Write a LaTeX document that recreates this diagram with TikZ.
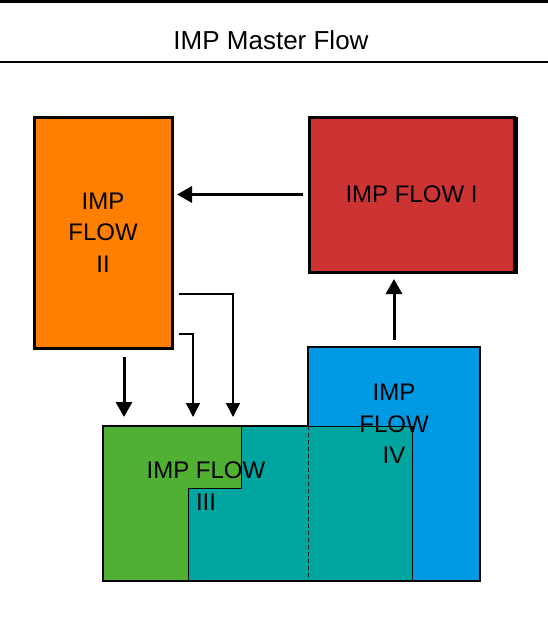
\documentclass[tikz,border=0pt]{standalone}
\usepackage{fontspec}
\setmainfont{Liberation Sans}
\usetikzlibrary{arrows.meta,calc}
\definecolor{orangeC}{RGB}{255,128,0}
\definecolor{redC}{RGB}{204,51,51}
\definecolor{greenC}{RGB}{80,176,52}
\definecolor{tealC}{RGB}{0,165,160}
\definecolor{blueC}{RGB}{0,153,228}
\tikzset{
  box/.style={rectangle, draw=black, line width=3pt, inner sep=0pt, align=center,
    font=\fontsize{24}{31.5}\selectfont},
  lbl/.style={align=center, inner sep=0pt, font=\fontsize{24}{31.5}\selectfont},
  thickarr/.style={line width=3pt, -{Triangle[length=15pt,width=16pt]}},
  thinarr/.style={line width=1.5pt, -{Triangle[length=14pt,width=14pt]}},
}
\begin{document}
\begin{tikzpicture}[x=1pt,y=-1pt]
\useasboundingbox[fill=white] (0,0) rectangle (548,618);
% header rules and title
\draw[line width=3pt] (0,1.5) -- (548,1.5);
\draw[line width=2pt] (0,62) -- (548,62);
\node[lbl, font=\fontsize{26}{30}\selectfont] (title) at (271,40) {IMP Master Flow};
% top boxes
\node[box, fill=orangeC, minimum width=138pt, minimum height=231pt] (f2) at (103,232.5) {IMP\\FLOW\\II};
\node[box, fill=redC, minimum width=205pt, minimum height=155pt] (f1) at (411.5,194.5) {IMP FLOW I};
\draw[line width=3pt] ([xshift=1.2pt,yshift=-1.5pt]f1.north east) -- ([xshift=1.2pt]f1.south east);
% bottom: blue box
\node[box, fill=blueC, line width=2.5pt, minimum width=172pt, minimum height=234pt] (f4) at (394,464) {};
% green region
\fill[greenC] (103,426) rectangle (308,581);
% teal region
\draw[fill=tealC, line width=1pt] (241,426) -- (412,426) -- (412,581) -- (188,581) -- (188,488) -- (241,488) -- cycle;
\draw[line width=1pt, dash pattern=on 4pt off 3pt] (308,426) -- (308,581);
\draw[line width=2.5pt] (308,426) -- (103,426) -- (103,581) -- (481,581);
% labels on the bottom regions
\node[lbl] (f3) at (206,486) {IMP FLOW\\III};
\node[lbl] (f4t) at (394,424) {IMP\\FLOW\\IV};
% connector end points
\coordinate (a1s) at (303,194.5);
\coordinate (a1e) at (177,194.5);
\coordinate (a2s) at (394,340);
\coordinate (a2e) at (394,279);
\coordinate (a3s) at (124,357);
\coordinate (t1) at (124,417);
\coordinate (t2) at (193,417);
\coordinate (t3) at (233,417);
% connectors
\draw[thickarr] (a1s) -- (a1e);
\draw[thickarr] (a2s) -- (a2e);
\draw[thickarr] (a3s) -- (t1);
\draw[thinarr] ([xshift=5pt,yshift=-61.5pt]f2.east) -| (t3);
\draw[thinarr] ([xshift=5pt,yshift=-101.5pt]f2.east) -| (t2);
\end{tikzpicture}
\end{document}
